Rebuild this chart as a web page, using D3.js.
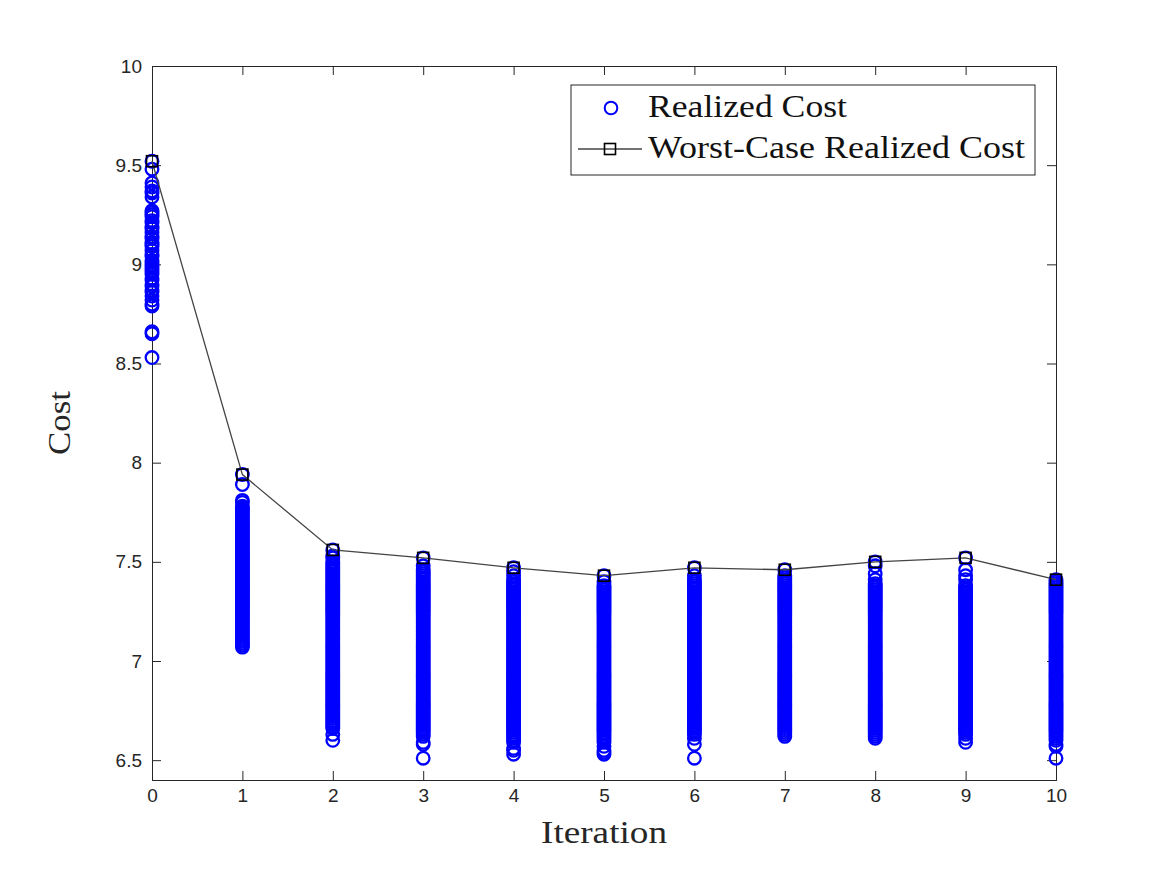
<!DOCTYPE html>
<html>
<head>
<meta charset="utf-8">
<script src="https://cdn.jsdelivr.net/npm/d3@7"></script>
<style>
  body { margin: 0; background: #fff; }
  svg { display: block; }
</style>
</head>
<body>
<div id="chart"></div>
<script>
// iteration index on the x axis
var iterations = [0, 1, 2, 3, 4, 5, 6, 7, 8, 9, 10];

// worst-case realized cost at each iteration
var worstCase = [9.52, 7.94, 7.56, 7.52, 7.47, 7.43, 7.47, 7.46, 7.50, 7.52, 7.41];

// realized costs per iteration
var cost0 = [9.52, 9.48, 9.41, 9.39, 9.37, 9.36, 9.34, 9.27, 9.26, 9.25, 9.24, 9.22, 9.21, 9.19, 9.18, 9.16,
  9.14, 9.13, 9.11, 9.10, 9.09, 9.07, 9.05, 9.04, 9.02, 9.01, 9.00, 8.99, 8.98, 8.97, 8.96, 8.95, 8.93,
  8.92, 8.90, 8.89, 8.87, 8.86, 8.84, 8.82, 8.80, 8.79, 8.66, 8.65, 8.53];
var cost1 = [7.94, 7.89, 7.81, 7.80, 7.78, 7.77, 7.76, 7.75, 7.74, 7.73, 7.72, 7.71, 7.70, 7.69, 7.68, 7.67,
  7.66, 7.65, 7.64, 7.63, 7.62, 7.61, 7.60, 7.59, 7.58, 7.57, 7.56, 7.55, 7.54, 7.53, 7.52, 7.51, 7.50,
  7.49, 7.48, 7.47, 7.46, 7.45, 7.44, 7.43, 7.42, 7.41, 7.40, 7.39, 7.38, 7.37, 7.36, 7.35, 7.34, 7.33,
  7.32, 7.31, 7.30, 7.29, 7.28, 7.27, 7.26, 7.25, 7.24, 7.23, 7.22, 7.21, 7.20, 7.19, 7.18, 7.17, 7.16,
  7.15, 7.14, 7.13, 7.12, 7.11, 7.10, 7.09, 7.08, 7.07];
var cost2 = [7.56, 7.53, 7.52, 7.50, 7.49, 7.48, 7.47, 7.46, 7.45, 7.44, 7.43, 7.42, 7.41, 7.40, 7.39, 7.38,
  7.37, 7.36, 7.35, 7.34, 7.33, 7.32, 7.31, 7.30, 7.29, 7.28, 7.27, 7.26, 7.25, 7.24, 7.23, 7.22, 7.21,
  7.20, 7.19, 7.18, 7.17, 7.16, 7.15, 7.14, 7.13, 7.12, 7.11, 7.10, 7.09, 7.08, 7.07, 7.06, 7.05, 7.04,
  7.03, 7.02, 7.01, 7.00, 6.99, 6.98, 6.97, 6.96, 6.95, 6.94, 6.93, 6.92, 6.91, 6.90, 6.89, 6.88, 6.87,
  6.86, 6.85, 6.84, 6.83, 6.82, 6.81, 6.80, 6.79, 6.78, 6.77, 6.76, 6.75, 6.74, 6.73, 6.72, 6.71, 6.70,
  6.69, 6.68, 6.67, 6.66, 6.63, 6.60];
var cost3 = [7.52, 7.48, 7.46, 7.45, 7.44, 7.43, 7.42, 7.41, 7.40, 7.39, 7.38, 7.37, 7.36, 7.35, 7.34, 7.33,
  7.32, 7.31, 7.30, 7.29, 7.28, 7.27, 7.26, 7.25, 7.24, 7.23, 7.22, 7.21, 7.20, 7.19, 7.18, 7.17, 7.16,
  7.15, 7.14, 7.13, 7.12, 7.11, 7.10, 7.09, 7.08, 7.07, 7.06, 7.05, 7.04, 7.03, 7.02, 7.01, 7.00, 6.99,
  6.98, 6.97, 6.96, 6.95, 6.94, 6.93, 6.92, 6.91, 6.90, 6.89, 6.88, 6.87, 6.86, 6.85, 6.84, 6.83, 6.82,
  6.81, 6.80, 6.79, 6.78, 6.77, 6.76, 6.75, 6.74, 6.73, 6.72, 6.71, 6.70, 6.69, 6.68, 6.67, 6.66, 6.65,
  6.64, 6.63, 6.62, 6.59, 6.58, 6.51];
var cost4 = [7.47, 7.45, 7.43, 7.41, 7.40, 7.39, 7.38, 7.37, 7.36, 7.35, 7.34, 7.33, 7.32, 7.31, 7.30, 7.29,
  7.28, 7.27, 7.26, 7.25, 7.24, 7.23, 7.22, 7.21, 7.20, 7.19, 7.18, 7.17, 7.16, 7.15, 7.14, 7.13, 7.12,
  7.11, 7.10, 7.09, 7.08, 7.07, 7.06, 7.05, 7.04, 7.03, 7.02, 7.01, 7.00, 6.99, 6.98, 6.97, 6.96, 6.95,
  6.94, 6.93, 6.92, 6.91, 6.90, 6.89, 6.88, 6.87, 6.86, 6.85, 6.84, 6.83, 6.82, 6.81, 6.80, 6.79, 6.78,
  6.77, 6.76, 6.75, 6.74, 6.73, 6.72, 6.71, 6.70, 6.69, 6.68, 6.67, 6.66, 6.65, 6.64, 6.63, 6.62, 6.61,
  6.60, 6.59, 6.56, 6.55, 6.53];
var cost5 = [7.43, 7.40, 7.38, 7.37, 7.36, 7.35, 7.34, 7.33, 7.32, 7.31, 7.30, 7.29, 7.28, 7.27, 7.26, 7.25,
  7.24, 7.23, 7.22, 7.21, 7.20, 7.19, 7.18, 7.17, 7.16, 7.15, 7.14, 7.13, 7.12, 7.11, 7.10, 7.09, 7.08,
  7.07, 7.06, 7.05, 7.04, 7.03, 7.02, 7.01, 7.00, 6.99, 6.98, 6.97, 6.96, 6.95, 6.94, 6.93, 6.92, 6.91,
  6.90, 6.89, 6.88, 6.87, 6.86, 6.85, 6.84, 6.83, 6.82, 6.81, 6.80, 6.79, 6.78, 6.77, 6.76, 6.75, 6.74,
  6.73, 6.72, 6.71, 6.70, 6.69, 6.68, 6.67, 6.66, 6.65, 6.64, 6.63, 6.62, 6.61, 6.60, 6.59, 6.57, 6.55,
  6.54, 6.53];
var cost6 = [7.47, 7.43, 7.41, 7.40, 7.39, 7.38, 7.37, 7.36, 7.35, 7.34, 7.33, 7.32, 7.31, 7.30, 7.29, 7.28,
  7.27, 7.26, 7.25, 7.24, 7.23, 7.22, 7.21, 7.20, 7.19, 7.18, 7.17, 7.16, 7.15, 7.14, 7.13, 7.12, 7.11,
  7.10, 7.09, 7.08, 7.07, 7.06, 7.05, 7.04, 7.03, 7.02, 7.01, 7.00, 6.99, 6.98, 6.97, 6.96, 6.95, 6.94,
  6.93, 6.92, 6.91, 6.90, 6.89, 6.88, 6.87, 6.86, 6.85, 6.84, 6.83, 6.82, 6.81, 6.80, 6.79, 6.78, 6.77,
  6.76, 6.75, 6.74, 6.73, 6.72, 6.71, 6.70, 6.69, 6.68, 6.67, 6.66, 6.65, 6.64, 6.63, 6.61, 6.58, 6.51];
var cost7 = [7.46, 7.43, 7.42, 7.41, 7.40, 7.39, 7.38, 7.37, 7.36, 7.35, 7.34, 7.33, 7.32, 7.31, 7.30, 7.29,
  7.28, 7.27, 7.26, 7.25, 7.24, 7.23, 7.22, 7.21, 7.20, 7.19, 7.18, 7.17, 7.16, 7.15, 7.14, 7.13, 7.12,
  7.11, 7.10, 7.09, 7.08, 7.07, 7.06, 7.05, 7.04, 7.03, 7.02, 7.01, 7.00, 6.99, 6.98, 6.97, 6.96, 6.95,
  6.94, 6.93, 6.92, 6.91, 6.90, 6.89, 6.88, 6.87, 6.86, 6.85, 6.84, 6.83, 6.82, 6.81, 6.80, 6.79, 6.78,
  6.77, 6.76, 6.75, 6.74, 6.73, 6.72, 6.71, 6.70, 6.69, 6.68, 6.67, 6.66, 6.65, 6.64, 6.63, 6.62];
var cost8 = [7.50, 7.48, 7.44, 7.41, 7.39, 7.38, 7.37, 7.36, 7.35, 7.34, 7.33, 7.32, 7.31, 7.30, 7.29, 7.28,
  7.27, 7.26, 7.25, 7.24, 7.23, 7.22, 7.21, 7.20, 7.19, 7.18, 7.17, 7.16, 7.15, 7.14, 7.13, 7.12, 7.11,
  7.10, 7.09, 7.08, 7.07, 7.06, 7.05, 7.04, 7.03, 7.02, 7.01, 7.00, 6.99, 6.98, 6.97, 6.96, 6.95, 6.94,
  6.93, 6.92, 6.91, 6.90, 6.89, 6.88, 6.87, 6.86, 6.85, 6.84, 6.83, 6.82, 6.81, 6.80, 6.79, 6.78, 6.77,
  6.76, 6.75, 6.74, 6.73, 6.72, 6.71, 6.70, 6.69, 6.68, 6.67, 6.66, 6.65, 6.64, 6.63, 6.62, 6.61];
var cost9 = [7.52, 7.46, 7.43, 7.41, 7.38, 7.37, 7.36, 7.35, 7.34, 7.33, 7.32, 7.31, 7.30, 7.29, 7.28, 7.27,
  7.26, 7.25, 7.24, 7.23, 7.22, 7.21, 7.20, 7.19, 7.18, 7.17, 7.16, 7.15, 7.14, 7.13, 7.12, 7.11, 7.10,
  7.09, 7.08, 7.07, 7.06, 7.05, 7.04, 7.03, 7.02, 7.01, 7.00, 6.99, 6.98, 6.97, 6.96, 6.95, 6.94, 6.93,
  6.92, 6.91, 6.90, 6.89, 6.88, 6.87, 6.86, 6.85, 6.84, 6.83, 6.82, 6.81, 6.80, 6.79, 6.78, 6.77, 6.76,
  6.75, 6.74, 6.73, 6.72, 6.71, 6.70, 6.69, 6.68, 6.67, 6.66, 6.65, 6.64, 6.63, 6.61, 6.59];
var cost10 = [7.41, 7.40, 7.39, 7.38, 7.37, 7.36, 7.35, 7.34, 7.33, 7.32, 7.31, 7.30, 7.29, 7.28, 7.27, 7.26,
  7.25, 7.24, 7.23, 7.22, 7.21, 7.20, 7.19, 7.18, 7.17, 7.16, 7.15, 7.14, 7.13, 7.12, 7.11, 7.10, 7.09,
  7.08, 7.07, 7.06, 7.05, 7.04, 7.03, 7.02, 7.01, 7.00, 6.99, 6.98, 6.97, 6.96, 6.95, 6.94, 6.93, 6.92,
  6.91, 6.90, 6.89, 6.88, 6.87, 6.86, 6.85, 6.84, 6.83, 6.82, 6.81, 6.80, 6.79, 6.78, 6.77, 6.76, 6.75,
  6.74, 6.73, 6.72, 6.71, 6.70, 6.69, 6.68, 6.67, 6.66, 6.65, 6.64, 6.63, 6.62, 6.61, 6.60, 6.58, 6.57,
  6.51];

var realized = [cost0, cost1, cost2, cost3, cost4, cost5, cost6, cost7, cost8, cost9, cost10];

var xTicks = [0, 1, 2, 3, 4, 5, 6, 7, 8, 9, 10];
var yTicks = [6.5, 7, 7.5, 8, 8.5, 9, 9.5, 10];
var legendLabels = ["Realized Cost", "Worst-Case Realized Cost"];

function init() {
    const W = 1167;
    const H = 875;
    const margin = { top: 66, right: 111, bottom: 95, left: 152 };
    const w = W - margin.left - margin.right;
    const h = H - margin.top - margin.bottom;
    const axisColor = "#262626";
    const tickFont = "'Liberation Sans', Arial, Helvetica, sans-serif";
    const labelFont = "'Liberation Serif', 'Times New Roman', serif";

    var svg = d3.select("#chart")
        .append("svg")
        .attr("width", W)
        .attr("height", H);

    var g = svg.append("g")
        .attr("transform", "translate(" + margin.left + "," + margin.top + ")");

    var x = d3.scaleLinear().domain([0, 10]).range([0, w]);
    var y = d3.scaleLinear().domain([6.4, 10]).range([h, 0]);

    // axes first (ticks point inward, box on all sides); markers draw over them
    var tickLen = 9;
    var xAxis = d3.axisBottom(x).tickValues(xTicks).tickSize(-tickLen).tickPadding(9)
        .tickFormat(d3.format("d"));
    var yAxis = d3.axisLeft(y).tickValues(yTicks).tickSize(-tickLen).tickPadding(10)
        .tickFormat(function (d) { return d3.format("")(d); });
    var xTop = d3.axisTop(x).tickValues(xTicks).tickSize(-tickLen).tickFormat("");
    var yRight = d3.axisRight(y).tickValues(yTicks).tickSize(-tickLen).tickFormat("");

    var axes = [
        g.append("g").attr("transform", "translate(0," + h + ")").call(xAxis),
        g.append("g").call(yAxis),
        g.append("g").call(xTop),
        g.append("g").attr("transform", "translate(" + w + ",0)").call(yRight)
    ];
    axes.forEach(function (a) {
        a.select(".domain").attr("stroke", axisColor).attr("stroke-width", 1);
        a.selectAll(".tick line").attr("stroke", axisColor).attr("stroke-width", 1);
        a.selectAll(".tick text")
            .attr("fill", axisColor)
            .style("font-family", tickFont)
            .style("font-size", "19px");
    });

    // scatter of realized costs
    var points = [];
    realized.forEach(function (col, i) {
        col.forEach(function (v) {
            points.push({ it: iterations[i], v: v });
        });
    });

    g.append("g")
        .selectAll("circle")
        .data(points)
        .enter()
        .append("circle")
        .attr("cx", function (d) { return x(d.it); })
        .attr("cy", function (d) { return y(d.v); })
        .attr("r", 6.3)
        .attr("fill", "none")
        .attr("stroke", "#0000ff")
        .attr("stroke-width", 2.3);

    // worst-case line with square markers
    var line = d3.line()
        .x(function (d, i) { return x(iterations[i]); })
        .y(function (d) { return y(d); });

    g.append("path")
        .datum(worstCase)
        .attr("d", line)
        .attr("fill", "none")
        .attr("stroke", "#444")
        .attr("stroke-width", 1.3);

    var sq = 11;
    g.append("g")
        .selectAll("rect")
        .data(worstCase)
        .enter()
        .append("rect")
        .attr("x", function (d, i) { return x(iterations[i]) - sq / 2; })
        .attr("y", function (d) { return y(d) - sq / 2; })
        .attr("width", sq)
        .attr("height", sq)
        .attr("fill", "none")
        .attr("stroke", "#000")
        .attr("stroke-width", 1.6);

    // axis labels
    svg.append("text")
        .attr("x", margin.left + w / 2)
        .attr("y", 843)
        .attr("text-anchor", "middle")
        .attr("textLength", 126)
        .attr("lengthAdjust", "spacingAndGlyphs")
        .style("font-family", labelFont)
        .style("font-size", "32px")
        .attr("fill", axisColor)
        .text("Iteration");

    svg.append("text")
        .attr("transform", "translate(70," + (margin.top + h / 2) + ") rotate(-90)")
        .attr("text-anchor", "middle")
        .attr("textLength", 64)
        .attr("lengthAdjust", "spacingAndGlyphs")
        .style("font-family", labelFont)
        .style("font-size", "32px")
        .attr("fill", axisColor)
        .text("Cost");

    // legend
    var lg = svg.append("g").attr("transform", "translate(571,85)");
    lg.append("rect")
        .attr("width", 464)
        .attr("height", 90)
        .attr("fill", "#fff")
        .attr("stroke", axisColor)
        .attr("stroke-width", 1);

    lg.append("circle")
        .attr("cx", 40).attr("cy", 23).attr("r", 6.3)
        .attr("fill", "none").attr("stroke", "#0000ff").attr("stroke-width", 2);

    lg.append("line")
        .attr("x1", 7).attr("x2", 71).attr("y1", 64).attr("y2", 64)
        .attr("stroke", "#444").attr("stroke-width", 1.3);
    lg.append("rect")
        .attr("x", 39 - sq / 2).attr("y", 64 - sq / 2)
        .attr("width", sq).attr("height", sq)
        .attr("fill", "none").attr("stroke", "#000").attr("stroke-width", 1.6);

    var legendWidths = [199, 377];
    lg.selectAll("text.lab")
        .data(legendLabels)
        .enter()
        .append("text")
        .attr("class", "lab")
        .attr("x", 77)
        .attr("y", function (d, i) { return 32 + i * 41; })
        .attr("textLength", function (d, i) { return legendWidths[i]; })
        .attr("lengthAdjust", "spacingAndGlyphs")
        .style("font-family", labelFont)
        .style("font-size", "32px")
        .attr("fill", "#111")
        .text(function (d) { return d; });
}
window.onload = init;
</script>
</body>
</html>
